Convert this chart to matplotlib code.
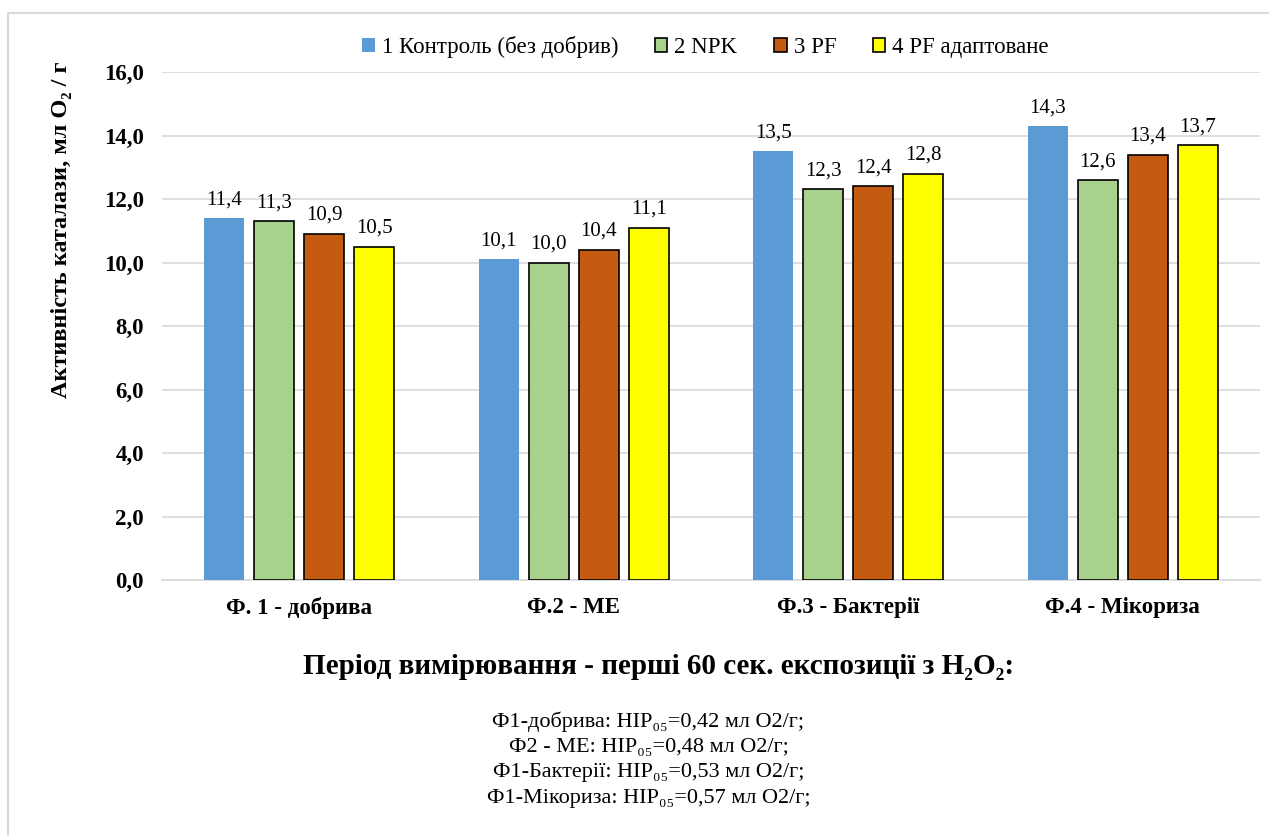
import matplotlib.pyplot as plt
import numpy as np
from matplotlib.lines import Line2D

plt.rcParams['font.family'] = ['Liberation Serif', 'DejaVu Serif']

groups = ["Ф. 1 - добрива", "Ф.2 - МЕ", "Ф.3 - Бактерії", "Ф.4 - Мікориза"]
series_names = ["1 Контроль (без добрив)", "2 NPK", "3 PF", "4 PF адаптоване"]
kontrol = [11.4, 10.1, 13.5, 14.3]
npk = [11.3, 10.0, 12.3, 12.6]
pf = [10.9, 10.4, 12.4, 13.4]
pf_adapt = [10.5, 11.1, 12.8, 13.7]
yticks = [0, 2, 4, 6, 8, 10, 12, 14, 16]
notes = ["Ф1-добрива: НІР₀₅=0,42 мл О2/г;",
         "Ф2 - МЕ: НІР₀₅=0,48 мл О2/г;",
         "Ф1-Бактерії: НІР₀₅=0,53 мл О2/г;",
         "Ф1-Мікориза: НІР₀₅=0,57 мл О2/г;"]

colors = ["#5b9bd5", "#a9d18e", "#c55a11", "#ffff00"]
edges = ["none", "black", "black", "black"]

fig = plt.figure(figsize=(12.69, 8.36), dpi=100)
ax = fig.add_axes([162 / 1269, 1 - 580 / 836, 1098 / 1269, 508 / 836])

x = np.arange(len(groups))
width = 0.146
step = 0.182
all_series = [kontrol, npk, pf, pf_adapt]
for i, vals in enumerate(all_series):
    pos = x + (i - 1.5) * step
    bars = ax.bar(pos, vals, width, color=colors[i], edgecolor=edges[i],
                  linewidth=1.2, label=series_names[i], zorder=3)
    for b, v in zip(bars, vals):
        ax.text(b.get_x() + b.get_width() / 2, v + 0.28,
                ("%.1f" % v).replace(".", ","), ha="center", va="bottom",
                fontsize=15)

ax.set_xlim(-0.5, 3.5)
ax.set_ylim(0, 16)
ax.set_yticks(yticks)
ax.set_yticklabels([("%.1f" % t).replace(".", ",") for t in yticks],
                   fontsize=16.5, fontweight="bold")
ax.set_xticks(x)
ax.set_xticklabels(groups, fontsize=16.5, fontweight="bold")
ax.tick_params(axis="both", length=0)
ax.tick_params(axis="y", pad=13)
ax.tick_params(axis="x", pad=12)
ax.grid(axis="y", color="#d9d9d9", linewidth=1.2, zorder=0)
for s in ["top", "right", "left"]:
    ax.spines[s].set_visible(False)
ax.spines["bottom"].set_color("#d9d9d9")
ax.spines["bottom"].set_linewidth(1.2)

# y label sits high, as in the original
fig.text(62 / 1269, 1 - 230 / 836, "Активність каталази, мл O₂ / г",
         rotation=90, ha="center", va="center", fontsize=17.5,
         fontweight="bold")

ax.legend(loc="lower center", bbox_to_anchor=(0.495, 1.0), ncol=4,
          frameon=False, fontsize=16.5, handlelength=0.55, handleheight=0.55,
          columnspacing=1.6, handletextpad=0.3, borderaxespad=0.2)

fig.text(659 / 1269, 1 - 667 / 836, "Період вимірювання - перші 60 сек. експозиції з H₂O₂:",
         ha="center", va="center", fontsize=21, fontweight="bold")
for k, line in enumerate(notes):
    fig.text(0.511, 1 - (722 + k * 25.5) / 836, line, ha="center",
             va="center", fontsize=16)

# light outer frame
fig.add_artist(Line2D([8 / 1269, 1], [1 - 13 / 836, 1 - 13 / 836],
                      color="#d9d9d9", linewidth=1.5, transform=fig.transFigure))
fig.add_artist(Line2D([8 / 1269, 8 / 1269], [0, 1 - 13 / 836],
                      color="#d9d9d9", linewidth=1.5, transform=fig.transFigure))

fig.savefig("out.png", dpi=100)
